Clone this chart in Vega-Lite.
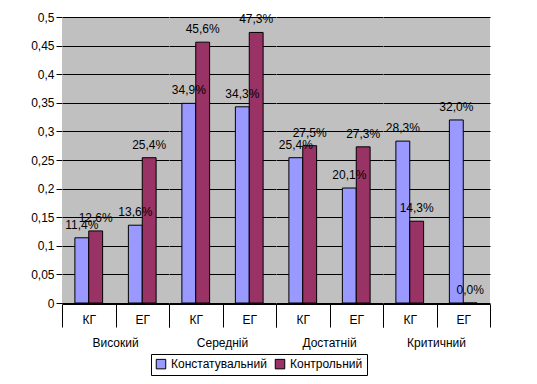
{
  "$schema": "https://vega.github.io/schema/vega-lite/v6.json",
  "padding": {"left": 30, "top": 11, "right": 40, "bottom": 4},
  "background": "white",
  "config": {
    "locale": {"number": {"decimal": ",", "thousands": " ", "grouping": [3], "currency": ["", ""]}},
    "font": "Liberation Sans",
    "view": {"fill": "#C0C0C0", "stroke": null},
    "axis": {"labelFont": "Liberation Sans", "labelColor": "black", "domainColor": "black", "tickColor": "black", "labelFontSize": 12},
    "header": {"labelFont": "Liberation Sans", "labelFontSize": 12, "labelColor": "black"},
    "legend": {"orient": "none", "legendX": 89, "legendY": 337, "direction": "horizontal", "symbolType": "square", "symbolStrokeColor": "black", "symbolStrokeWidth": 1, "symbolSize": 90, "strokeColor": "black", "padding": 4, "labelFontSize": 12, "labelFont": "Liberation Sans", "labelColor": "black", "columnPadding": 6}
  },
  "data": {"values": [
    {"level": "Високий", "ord": 1, "group": "КГ", "series": "Констатувальний", "value": 0.114},
    {"level": "Високий", "ord": 1, "group": "КГ", "series": "Контрольний", "value": 0.126},
    {"level": "Високий", "ord": 1, "group": "ЕГ", "series": "Констатувальний", "value": 0.136},
    {"level": "Високий", "ord": 1, "group": "ЕГ", "series": "Контрольний", "value": 0.254},
    {"level": "Середній", "ord": 2, "group": "КГ", "series": "Констатувальний", "value": 0.349},
    {"level": "Середній", "ord": 2, "group": "КГ", "series": "Контрольний", "value": 0.456},
    {"level": "Середній", "ord": 2, "group": "ЕГ", "series": "Констатувальний", "value": 0.343},
    {"level": "Середній", "ord": 2, "group": "ЕГ", "series": "Контрольний", "value": 0.473},
    {"level": "Достатній", "ord": 3, "group": "КГ", "series": "Констатувальний", "value": 0.254},
    {"level": "Достатній", "ord": 3, "group": "КГ", "series": "Контрольний", "value": 0.275},
    {"level": "Достатній", "ord": 3, "group": "ЕГ", "series": "Констатувальний", "value": 0.201},
    {"level": "Достатній", "ord": 3, "group": "ЕГ", "series": "Контрольний", "value": 0.273},
    {"level": "Критичний", "ord": 4, "group": "КГ", "series": "Констатувальний", "value": 0.283},
    {"level": "Критичний", "ord": 4, "group": "КГ", "series": "Контрольний", "value": 0.143},
    {"level": "Критичний", "ord": 4, "group": "ЕГ", "series": "Констатувальний", "value": 0.32},
    {"level": "Критичний", "ord": 4, "group": "ЕГ", "series": "Контрольний", "value": 0.0}
  ]},
  "facet": {
    "column": {"field": "level", "type": "nominal", "sort": {"field": "ord", "op": "min"}, "title": null,
      "header": {"labelOrient": "bottom", "labelPadding": 10, "labelFontSize": 12}}
  },
  "spacing": 0,
  "spec": {
    "width": 107,
    "height": 286,
    "encoding": {
      "x": {"field": "group", "type": "nominal", "sort": null, "title": null, "scale": {"paddingInner": 0, "paddingOuter": 0},
        "axis": {"tickBand": "extent", "tickSize": 23, "labelPadding": -13, "labelBaseline": "top", "labelAngle": 0, "domainColor": "black", "grid": false}},
      "xOffset": {"field": "series", "type": "nominal", "scale": {"paddingInner": 0, "paddingOuter": 0.93}},
      "y": {"field": "value", "type": "quantitative", "title": null, "scale": {"domain": [0, 0.5]},
        "axis": {"values": [0, 0.05, 0.1, 0.15, 0.2, 0.25, 0.3, 0.35, 0.4, 0.45, 0.5], "format": ".2~f", "gridColor": "black", "gridOpacity": 1, "tickSize": 6, "domainColor": "black"}}
    },
    "layer": [
      {
        "mark": {"type": "bar", "stroke": "black", "strokeWidth": 1},
        "encoding": {
          "color": {"field": "series", "type": "nominal", "title": null, "scale": {"domain": ["Констатувальний", "Контрольний"], "range": ["#9999FF", "#993366"]}}
        }
      },
      {
        "mark": {"type": "text", "baseline": "bottom", "dy": -6, "fontSize": 12, "font": "Liberation Sans", "color": "black"},
        "encoding": {
          "text": {"field": "value", "type": "quantitative", "format": ".1%"}
        }
      }
    ]
  }
}
